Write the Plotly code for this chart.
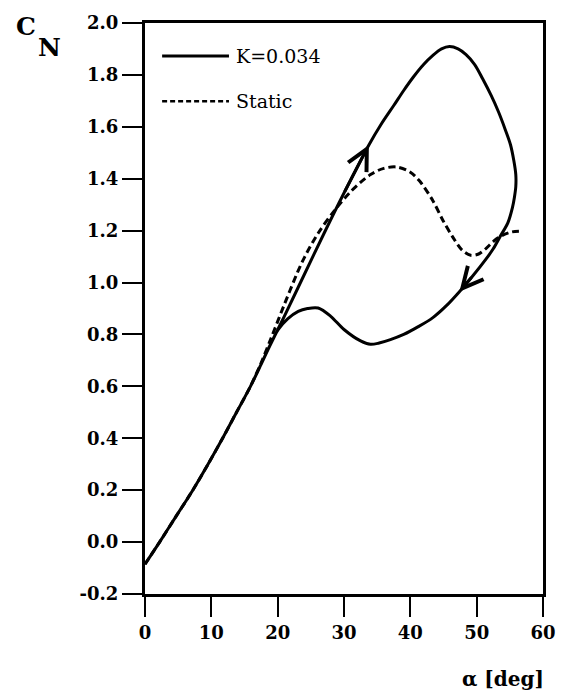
import plotly.graph_objects as go

# ---- data ----
alpha_k = [0.0, 2.2, 4.7, 7.2, 9.5, 11.7, 13.8, 15.9, 17.5, 18.6, 21.0, 24.0, 27.0, 30.0, 33.75,
           35.6, 37.5, 39.0, 40.4, 42.0, 43.4, 44.7, 45.9, 47.2, 48.4, 49.7, 50.9, 52.2,
           53.3, 54.3, 55.1, 55.6, 55.9, 55.9, 55.7, 55.4, 54.7,
           53.6, 52.5, 51.4, 49.4, 47.4, 45.4, 43.4, 41.2, 39.0, 37.0, 35.3, 34.0,
           32.5, 30.0, 28.0, 26.1, 24.5, 23.1, 21.5, 20.1, 18.6]
cn_k = [-0.085, 0.0, 0.1, 0.2, 0.3, 0.4, 0.5, 0.6, 0.685, 0.745, 0.87, 1.03, 1.19, 1.345, 1.53,
        1.61, 1.682, 1.74, 1.79, 1.84, 1.875, 1.90, 1.909, 1.90, 1.878, 1.84, 1.785, 1.72,
        1.657, 1.59, 1.531, 1.47, 1.416, 1.37, 1.33, 1.29, 1.23,
        1.18, 1.13, 1.09, 1.025, 0.965, 0.91, 0.865, 0.83, 0.80, 0.78, 0.767, 0.762,
        0.775, 0.819, 0.87, 0.902, 0.9, 0.889, 0.86, 0.819, 0.745]

alpha_static = [0.0, 2.2, 4.7, 7.2, 9.5, 11.7, 13.8, 15.9, 17.5, 19.0, 21.0, 23.0, 24.1,
                26.1, 28.5, 31.0, 34.0, 36.0, 38.0, 40.0, 41.4, 43.4, 44.9, 46.4, 47.8,
                49.1, 50.3, 51.4, 52.6, 53.8, 55.3, 56.8]
cn_static = [-0.085, 0.0, 0.1, 0.2, 0.3, 0.4, 0.5, 0.6, 0.69, 0.785, 0.915, 1.04, 1.10,
             1.19, 1.275, 1.35, 1.416, 1.44, 1.445, 1.425, 1.391, 1.315, 1.24, 1.175, 1.125,
             1.105, 1.11, 1.131, 1.16, 1.181, 1.195, 1.198]

series_names = ["K=0.034", "Static"]
arrow_indices = [14, 41]   # points on the K=0.034 curve carrying direction arrows

x_tick_vals = [0, 10, 20, 30, 40, 50, 60]
x_tick_text = ["0", "10", "20", "30", "40", "50", "60"]
y_tick_vals = [-0.2, 0.0, 0.2, 0.4, 0.6, 0.8, 1.0, 1.2, 1.4, 1.6, 1.8, 2.0]
y_tick_text = ["-0.2", "0.0", "0.2", "0.4", "0.6", "0.8", "1.0", "1.2", "1.4", "1.6", "1.8", "2.0"]

SERIF = "DejaVu Serif"

fig = go.Figure()
fig.add_trace(go.Scatter(x=alpha_static, y=cn_static, mode="lines", name=series_names[1],
                         line=dict(color="black", width=3, dash="7px,4px", shape="spline",
                                   smoothing=0.9),
                         showlegend=False))
fig.add_trace(go.Scatter(x=alpha_k, y=cn_k, mode="lines", name=series_names[0],
                         line=dict(color="black", width=3, shape="spline", smoothing=0.9),
                         showlegend=False))

annotations = []
for i in arrow_indices:
    tx, ty = alpha_k[i], cn_k[i]
    px, py = alpha_k[i - 1], cn_k[i - 1]
    annotations.append(dict(x=tx, y=ty, xref="x", yref="y",
                            ax=px, ay=py, axref="x", ayref="y", text="", showarrow=True,
                            arrowhead=5, arrowsize=1.35, arrowwidth=3,
                            arrowcolor="black"))

leg_x0, leg_x1, leg_tx = 0.043, 0.211, 0.224
leg_y = [0.942, 0.863]
shapes = [
    dict(type="line", xref="paper", yref="paper", x0=leg_x0, x1=leg_x1,
         y0=leg_y[0], y1=leg_y[0], line=dict(color="black", width=3)),
    dict(type="line", xref="paper", yref="paper", x0=leg_x0, x1=leg_x1,
         y0=leg_y[1], y1=leg_y[1], line=dict(color="black", width=2.5, dash="5px,3px")),
]
for name, yy in zip(series_names, leg_y):
    annotations.append(dict(x=leg_tx, y=yy, xref="paper", yref="paper", text=name,
                            showarrow=False, xanchor="left", yanchor="middle",
                            font=dict(family=SERIF, size=19, color="black")))

annotations.append(dict(x=-0.298, y=0.993, xref="paper", yref="paper", text="C",
                        showarrow=False, xanchor="center", yanchor="middle",
                        font=dict(family=SERIF, size=25, color="black", weight="bold")))
annotations.append(dict(x=-0.24, y=0.957, xref="paper", yref="paper", text="N",
                        showarrow=False, xanchor="center", yanchor="middle",
                        font=dict(family=SERIF, size=25, color="black", weight="bold")))
annotations.append(dict(x=0.9, y=-0.148, xref="paper", yref="paper", text="α [deg]",
                        showarrow=False, xanchor="center", yanchor="middle",
                        font=dict(family=SERIF, size=20, color="black", weight="bold")))

axis_common = dict(showline=True, linewidth=3, linecolor="black", mirror=True,
                   showgrid=False, zeroline=False, ticks="outside", ticklen=20,
                   tickwidth=2, tickcolor="black",
                   tickfont=dict(family=SERIF, size=18, color="black", weight="bold"))

fig.update_layout(
    width=568, height=699,
    margin=dict(l=145, r=20, t=17, b=105),
    paper_bgcolor="white", plot_bgcolor="white",
    font=dict(family=SERIF),
    xaxis=dict(range=[0, 60], tickmode="array", tickvals=x_tick_vals,
               ticktext=x_tick_text, **axis_common),
    yaxis=dict(range=[-0.2, 2.0], tickmode="array", tickvals=y_tick_vals,
               ticktext=y_tick_text, **axis_common),
    shapes=shapes,
    annotations=annotations,
    showlegend=False,
)

fig.write_html("out.html")
